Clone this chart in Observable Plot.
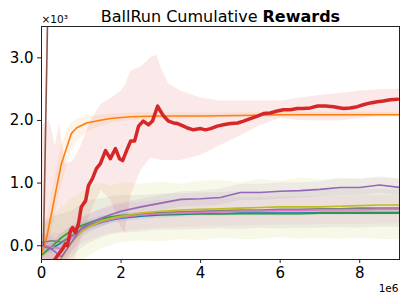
<!DOCTYPE html>
<html><head><meta charset="utf-8">
<script src="https://cdn.jsdelivr.net/npm/d3@7"></script>
<script src="https://cdn.jsdelivr.net/npm/@observablehq/plot@0.6"></script>
<style>body{margin:0;background:#fff}</style>
</head><body><div id="chart"></div>
<script>
// x in millions of steps (axis offset 1e6), y in thousands (axis offset ×10³)
const titleRegular = "BallRun Cumulative";
const titleBold = "Rewards";
const yTicks = [0, 1, 2, 3];
const xTicks = [0, 2, 4, 6, 8];

// red (thick)
const redX = [0.2,0.28,0.4,0.53,0.6,0.65,0.73,0.78,0.85,0.93,1.0,1.11,1.18,1.28,1.38,1.48,1.61,1.73,1.86,1.96,2.04,2.16,2.24,2.34,2.44,2.56,2.69,2.79,2.92,2.99,3.07,3.19,3.32,3.42,3.57,3.67,3.82,4.0,4.12,4.25,4.42,4.57,4.75,4.93,5.08,5.25,5.43,5.58,5.75,5.93,6.08,6.26,6.43,6.58,6.76,6.94,7.14,7.34,7.59,7.76,7.94,8.09,8.27,8.44,8.59,8.77,8.95];
const redY = [-0.5,-0.27,-0.16,-0.05,0.03,0.0,0.24,0.29,0.21,0.35,0.62,0.72,0.96,1.07,1.23,1.31,1.52,1.39,1.55,1.39,1.36,1.55,1.67,1.67,1.91,1.99,1.93,1.99,2.23,2.15,2.07,1.99,1.96,1.95,1.91,1.88,1.85,1.87,1.85,1.87,1.91,1.93,1.95,1.96,1.99,2.03,2.07,2.11,2.12,2.15,2.17,2.17,2.19,2.19,2.20,2.23,2.23,2.22,2.19,2.20,2.22,2.25,2.28,2.30,2.31,2.33,2.34];
const redBandX = [0,0.2,0.35,0.45,0.6,0.8,1.0,1.25,1.5,1.75,2.0,2.1,2.25,2.5,2.75,2.9,3.0,3.2,3.5,4.0,4.5,5.0,5.5,6.0,6.5,7.0,7.5,8.0,8.5,9.0];
const redLo = [-0.5,-0.5,-0.5,-0.5,-0.5,-0.3,0.1,0.55,0.88,0.72,0.3,0.2,0.8,1.2,1.4,1.38,1.36,1.36,1.36,1.44,1.6,1.75,1.92,2.03,2.0,1.99,1.99,2.03,2.07,2.07];
const redHi = [1.9,2.0,1.6,1.95,1.3,1.35,1.6,2.0,2.26,2.35,2.47,2.55,2.79,2.85,3.0,3.05,2.85,2.58,2.47,2.36,2.31,2.31,2.31,2.31,2.36,2.4,2.43,2.47,2.49,2.5];

// orange
const orangeX = [0,0.13,0.25,0.38,0.5,0.63,0.75,0.88,1.13,1.38,1.73,2.24,3,4,5,6,7,8,9];
const orangeY = [-0.13,0.13,0.51,0.93,1.31,1.56,1.79,1.88,1.96,1.99,2.03,2.06,2.07,2.07,2.08,2.09,2.09,2.09,2.09];
const orangeLo = [-0.3,-0.1,0.2,0.6,0.95,1.25,1.5,1.65,1.8,1.88,1.95,2.0,2.02,2.03,2.04,2.05,2.05,2.05,2.05];
const orangeHi = [0.1,0.4,0.8,1.2,1.6,1.8,1.95,2.02,2.06,2.08,2.1,2.12,2.12,2.12,2.12,2.13,2.13,2.13,2.13];

// brown (shoots off the top)
const brownX = [0.05, 0.17];
const brownY = [0.0, 4.2];
const brownLo = [-0.2, 3.6];
const brownHi = [0.2, 4.8];

// cluster near 0.5
const gridX = [0,0.25,0.5,0.75,1,1.25,1.5,1.75,2,2.5,3,3.5,4,4.5,5,5.5,6,6.5,7,7.5,8,8.5,9];
const blueY   = [0.0,-0.05,0.05,0.15,0.25,0.32,0.37,0.41,0.44,0.47,0.49,0.50,0.51,0.51,0.52,0.52,0.52,0.52,0.53,0.53,0.53,0.53,0.53];
const blueLo  = [-0.08,-0.12,-0.03,0.07,0.17,0.25,0.3,0.35,0.38,0.42,0.44,0.46,0.47,0.47,0.48,0.48,0.48,0.48,0.49,0.49,0.49,0.49,0.49];
const blueHi  = [0.08,0.03,0.13,0.23,0.33,0.39,0.44,0.47,0.5,0.52,0.54,0.54,0.55,0.55,0.56,0.56,0.56,0.56,0.57,0.57,0.57,0.57,0.57];
const greenY  = [-0.15,-0.02,0.13,0.24,0.32,0.38,0.43,0.46,0.48,0.50,0.51,0.51,0.51,0.51,0.51,0.51,0.51,0.51,0.52,0.52,0.52,0.52,0.52];
const greenLo = [-0.22,-0.08,0.07,0.19,0.27,0.34,0.39,0.43,0.45,0.47,0.49,0.49,0.49,0.49,0.49,0.49,0.49,0.49,0.5,0.5,0.5,0.5,0.5];
const greenHi = [-0.08,0.04,0.19,0.29,0.37,0.42,0.47,0.49,0.51,0.53,0.53,0.53,0.53,0.53,0.53,0.53,0.53,0.53,0.54,0.54,0.54,0.54,0.54];
const pinkY   = [0.02,-0.02,-0.05,0.12,0.24,0.32,0.38,0.42,0.45,0.49,0.51,0.52,0.53,0.54,0.55,0.55,0.56,0.56,0.57,0.57,0.57,0.58,0.58];
const pinkLo  = [-0.2,-0.25,-0.3,-0.1,0.02,0.1,0.16,0.2,0.22,0.26,0.28,0.29,0.3,0.31,0.32,0.32,0.33,0.33,0.34,0.34,0.34,0.35,0.35];
const pinkHi  = [0.2,0.2,0.2,0.32,0.44,0.52,0.58,0.62,0.66,0.7,0.72,0.74,0.75,0.76,0.77,0.77,0.78,0.78,0.79,0.79,0.8,0.8,0.8];
const grayY   = [0.05,0.08,0.06,0.15,0.26,0.34,0.40,0.44,0.47,0.51,0.53,0.54,0.55,0.56,0.57,0.57,0.58,0.58,0.59,0.59,0.60,0.60,0.60];
const grayLo  = [-0.3,-0.25,-0.3,-0.2,-0.05,0.05,0.12,0.18,0.2,0.22,0.25,0.25,0.26,0.27,0.26,0.28,0.27,0.28,0.28,0.29,0.28,0.3,0.3];
const grayHi  = [0.4,0.45,0.5,0.55,0.65,0.72,0.75,0.78,0.8,0.8,0.82,0.83,0.84,0.85,0.86,0.86,0.87,0.88,0.88,0.9,0.9,0.9,0.9];
const oliveY  = [-0.3,-0.3,-0.2,0.05,0.22,0.32,0.39,0.44,0.47,0.52,0.55,0.57,0.58,0.59,0.60,0.61,0.62,0.62,0.62,0.63,0.64,0.65,0.65];
const oliveLo = [-0.5,-0.5,-0.5,-0.4,-0.25,-0.15,-0.05,0.0,0.05,0.08,0.06,0.1,0.08,0.12,0.1,0.1,0.13,0.1,0.12,0.1,0.12,0.1,0.1];
const oliveHi = [0.3,0.45,0.6,0.75,0.85,0.95,1.0,0.95,1.0,0.98,1.02,0.98,1.03,1.05,1.0,1.06,1.03,1.08,1.05,1.08,1.06,1.08,1.07];
const purpleY  = [0.0,-0.05,-0.18,0.05,0.28,0.37,0.44,0.50,0.55,0.62,0.68,0.74,0.75,0.77,0.85,0.85,0.87,0.88,0.90,0.93,0.93,0.97,0.93];
const purpleLo = [-0.2,-0.25,-0.35,-0.12,0.12,0.22,0.3,0.36,0.42,0.5,0.56,0.62,0.63,0.65,0.72,0.72,0.74,0.76,0.78,0.8,0.8,0.84,0.8];
const purpleHi = [0.2,0.15,0.0,0.22,0.44,0.52,0.58,0.64,0.68,0.74,0.8,0.86,0.87,0.9,0.98,0.98,1.0,1.0,1.02,1.06,1.06,1.1,1.06];

const C = {blue:"#1f77b4",orange:"#ff7f0e",green:"#2ca02c",red:"#d62728",purple:"#9467bd",brown:"#8c564b",pink:"#e377c2",gray:"#7f7f7f",olive:"#bcbd22"};

function table(xs, ys, lo, hi) {
  return xs.map((x, i) => ({x, y: ys ? ys[i] : null, lo: lo ? lo[i] : null, hi: hi ? hi[i] : null}));
}
const series = [
  {c: C.olive, d: table(gridX, oliveY, oliveLo, oliveHi), w: 1.6},
  {c: C.gray, d: table(gridX, grayY, grayLo, grayHi), w: 1.6},
  {c: C.pink, d: table(gridX, pinkY, pinkLo, pinkHi), w: 1.6},
  {c: C.purple, d: table(gridX, purpleY, purpleLo, purpleHi), w: 1.6},
  {c: C.blue, d: table(gridX, blueY, blueLo, blueHi), w: 1.6},
  {c: C.green, d: table(gridX, greenY, greenLo, greenHi), w: 1.6},
  {c: C.orange, d: table(orangeX, orangeY, orangeLo, orangeHi), w: 1.6},
  {c: C.brown, d: table(brownX, brownY, brownLo, brownHi), w: 1.6}
];
const redBand = table(redBandX, null, redLo, redHi);
const redLine = table(redX, redY);
const lineOrder = [C.blue, C.green, C.gray, C.pink, C.olive, C.purple, C.orange, C.brown];

const marks = [];
marks.push(Plot.areaY(redBand, {x: "x", y1: "lo", y2: "hi", fill: C.red, fillOpacity: 0.1, clip: true}));
for (const s of series) marks.push(Plot.areaY(s.d, {x: "x", y1: "lo", y2: "hi", fill: s.c, fillOpacity: 0.1, clip: true}));
for (const col of lineOrder) {
  const s = series.find(t => t.c === col);
  marks.push(Plot.line(s.d, {x: "x", y: "y", stroke: s.c, strokeWidth: s.w, clip: true}));
}
marks.push(Plot.line(redLine, {x: "x", y: "y", stroke: C.red, strokeWidth: 3.5, strokeLinejoin: "round", clip: true}));
marks.push(Plot.axisY(yTicks, {tickFormat: d3.format(".1f"), tickSize: 4, tickPadding: 4, fontSize: 15, label: null, stroke: "#222"}));
marks.push(Plot.axisX(xTicks, {tickFormat: d3.format("d"), tickSize: 4, tickPadding: 4, fontSize: 15, label: null, stroke: "#222"}));
marks.push(Plot.frame({stroke: "#222", strokeWidth: 1}));
marks.push(Plot.text([titleRegular], {frameAnchor: "top-left", dx: 216, dy: -16, textAnchor: "end", fontSize: 16, fill: "black"}));
marks.push(Plot.text([titleBold], {frameAnchor: "top-left", dx: 221, dy: -16, textAnchor: "start", fontSize: 16, fontWeight: "bold", fill: "black"}));
marks.push(Plot.text(["×10³"], {frameAnchor: "top-left", dx: 0, dy: -11, textAnchor: "start", fontSize: 10.5, fill: "black"}));
marks.push(Plot.text(["1e6"], {frameAnchor: "bottom-right", dx: -1, dy: 32, textAnchor: "end", fontSize: 10.5, fill: "black"}));

const chart = Plot.plot({
  width: 407, height: 304,
  marginLeft: 41, marginRight: 8, marginTop: 26, marginBottom: 45,
  x: {domain: [0, 9]},
  y: {domain: [-0.22, 3.5]},
  style: {fontFamily: "DejaVu Sans", background: "white", color: "black", overflow: "visible"},
  marks
});
document.getElementById("chart").appendChild(chart);
</script>
</body></html>
